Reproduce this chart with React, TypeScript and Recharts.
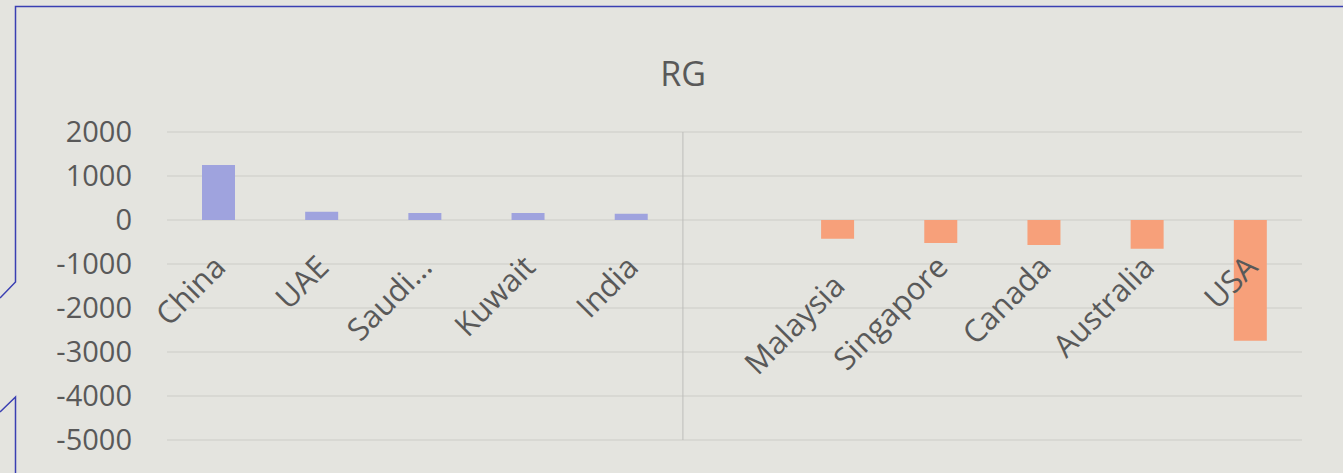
import { BarChart, Bar, XAxis, YAxis, CartesianGrid, Cell, LabelList, ReferenceLine } from "recharts";

const categories = ["China", "UAE", "Saudi…", "Kuwait", "India", " ", "Malaysia", "Singapore", "Canada", "Australia", "USA"];
const rgValues: (number | null)[] = [1250, 190, 160, 160, 140, null, -425, -523, -568, -652, -2743];
const yTicks = [2000, 1000, 0, -1000, -2000, -3000, -4000, -5000];

const data = categories.map((name, i) => ({ name, rg: rgValues[i] }));

const FONT = "'Segoe UI', 'Open Sans', sans-serif";
const TEXT = "#595959";
const POS = "#9FA3DE";
const NEG = "#F7A07A";

const CategoryLabel = (props: any) => {
  const vb = props.viewBox || props;
  const name = String(props.value ?? "").trim();
  if (!name) return null;
  const v = rgValues[props.index] ?? 0;
  const cx = vb.x + vb.width / 2;
  const top = Math.min(vb.y, vb.y + vb.height);
  const bottom = Math.max(vb.y, vb.y + vb.height);
  // labels hang from the 0 line, like Excel's "next to axis"
  const zeroY = v >= 0 ? bottom : top;
  const lx = cx + 9;
  const ly = zeroY + 49;
  return (
    <text
      x={lx}
      y={ly}
      textAnchor="end"
      fill={TEXT}
      fontSize={31}
      fontFamily={FONT}
      transform={`rotate(-45 ${lx} ${ly})`}
    >
      {name}
    </text>
  );
};

export default function App() {
  return (
    <div style={{ position: "fixed", left: 0, top: 0, width: 1343, height: 473, background: "#E4E4DF", overflow: "hidden" }}>
      <svg width={1343} height={473} style={{ position: "absolute", left: 0, top: 0 }}>
        <polyline points="1343,6.5 15.5,6.5 15.5,282 0,298" fill="none" stroke="#3A3FB2" strokeWidth={1.5} />
        <polyline points="0,412 15.5,397 15.5,473" fill="none" stroke="#3A3FB2" strokeWidth={1.5} />
      </svg>
      <div
        style={{
          position: "absolute",
          left: 0,
          width: 1366,
          top: 50,
          textAlign: "center",
          fontFamily: FONT,
          fontSize: 34,
          color: TEXT,
        }}
      >
        RG
      </div>
      <div style={{ position: "absolute", left: 0, top: 0 }}>
        <BarChart width={1343} height={473} data={data} margin={{ top: 132, right: 41, bottom: 33, left: 0 }}>
          <CartesianGrid vertical={false} stroke="#D4D4CF" strokeWidth={1.5} />
          <XAxis dataKey="name" type="category" hide />
          <YAxis
            type="number"
            domain={[-5000, 2000]}
            ticks={yTicks}
            interval={0}
            width={167}
            axisLine={false}
            tickLine={false}
            tickSize={0}
            tickMargin={35}
            tick={{ fill: TEXT, fontSize: 29, fontFamily: FONT }}
          />
          <ReferenceLine x=" " position="start" stroke="#BDBDBA" strokeWidth={1} />
          <Bar dataKey="rg" barSize={33} isAnimationActive={false}>
            {data.map((d, i) => (
              <Cell key={i} fill={(d.rg ?? 0) >= 0 ? POS : NEG} />
            ))}
            <LabelList dataKey="name" content={CategoryLabel} />
          </Bar>
        </BarChart>
      </div>
    </div>
  );
}
